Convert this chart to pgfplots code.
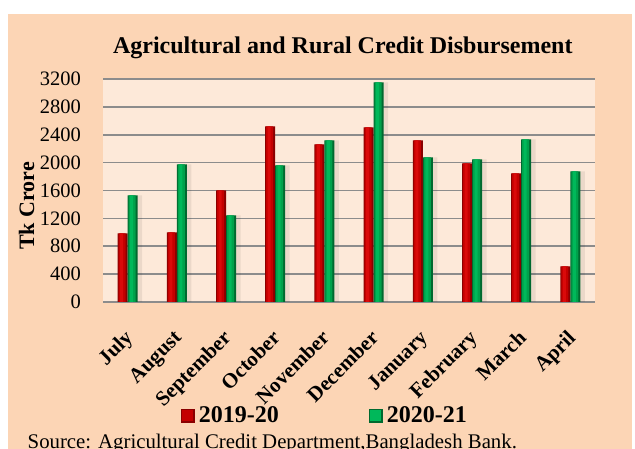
\documentclass[border=0pt]{standalone}
\usepackage{fontspec}
\setmainfont{Liberation Serif}
\usepackage{pgfplots}
\pgfplotsset{compat=1.18}
\definecolor{peach}{HTML}{FCD5B5}
\definecolor{plotbg}{HTML}{FDE9D9}
\definecolor{gridc}{HTML}{8C8C8C}
\definecolor{redD}{HTML}{8A0000}
\definecolor{redM}{HTML}{C40000}
\definecolor{redH}{HTML}{DA0A0A}
\definecolor{grnD}{HTML}{00692F}
\definecolor{grnM}{HTML}{00A14B}
\definecolor{grnH}{HTML}{00B85A}
\pgfplotstableread{
x y
0 986
1 1000
2 1603
3 2521
4 2263
5 2507
6 2320
7 1990
8 1847
9 512
}\redtab
\pgfplotstableread{
x y
0 1531
1 1976
2 1244
3 1961
4 2320
5 3152
6 2076
7 2047
8 2335
9 1875
}\grntab
\begin{document}
\begin{tikzpicture}[x=1pt,y=1pt]
\useasboundingbox (0,0) rectangle (635,449);
\fill[white] (0,0) rectangle (635,449);
\fill[peach] (8,-5) rectangle (632,435);
\node[anchor=base, inner sep=0pt, font=\fontsize{24}{28}\selectfont\bfseries] at (342.8,395) {Agricultural and Rural Credit Disbursement};
\node[anchor=base, inner sep=0pt, font=\fontsize{22}{26}\selectfont\bfseries, rotate=90] at (34,243) {Tk Crore};
\node[anchor=base west, inner sep=0pt, font=\fontsize{20.8}{24}\selectfont] at (27.5,0.5) {Source: Agricultural Credit Department,Bangladesh Bank.};
\begin{axis}[
  at={(103pt,147pt)}, anchor=south west,
  scale only axis, width=492pt, height=223pt,
  ymin=0, ymax=3200, ytick={0,400,...,3200},
  xmin=-0.5, xmax=9.5, xtick={0,...,9},
  xticklabels={July,August,September,October,November,December,January,February,March,April},
  axis line style={draw=none}, major tick length=0pt,
  ymajorgrids, grid style={gridc, line width=1.6pt},
  axis background/.style={fill=plotbg},
  /pgf/number format/assume math mode=true,
  /pgf/number format/1000 sep={},
  yticklabel style={font=\fontsize{20.5}{24}\selectfont, anchor=east, inner sep=0pt, xshift=-22pt},
  xticklabel style={font=\fontsize{21}{25}\selectfont\bfseries, rotate=45, anchor=north east, inner sep=0pt, xshift=-21.8pt, yshift=-15.8pt},
  legend style={at={(axis description cs:0.158,-0.51)}, anchor=west, draw=none, fill=none,
    legend columns=2, font=\fontsize{24}{28}\selectfont\bfseries, inner sep=0pt,
    nodes={inner sep=2pt}, /tikz/every even column/.append style={column sep=88pt}},
  bar width=10pt,
]
% shadow
\addplot[ybar, bar shift=12pt, bar width=5pt, fill=black, opacity=0.07, draw=none, forget plot] table {\grntab};
% red bars
\addplot[ybar, bar shift=-5pt, fill=redD, draw=none,
  legend image code/.code={\fill[redD] (0pt,-7pt) rectangle (14pt,7pt); \fill[redM] (1.5pt,-5.5pt) rectangle (12.5pt,5.5pt); \path (16pt,0pt);}] table {\redtab};
\addlegendentry{2019-20}
\addplot[ybar, bar shift=-5.5pt, bar width=7pt, fill=redM, draw=none, forget plot] table {\redtab};
\addplot[ybar, bar shift=-6pt, bar width=3pt, fill=redH, draw=none, forget plot] table {\redtab};
% green bars
\addplot[ybar, bar shift=5pt, fill=grnD, draw=none,
  legend image code/.code={\fill[grnD] (0pt,-7pt) rectangle (14pt,7pt); \fill[grnH] (1.5pt,-5.5pt) rectangle (12.5pt,5.5pt); \path (16pt,0pt);}] table {\grntab};
\addlegendentry{2020-21}
\addplot[ybar, bar shift=4.5pt, bar width=7pt, fill=grnM, draw=none, forget plot] table {\grntab};
\addplot[ybar, bar shift=4pt, bar width=3pt, fill=grnH, draw=none, forget plot] table {\grntab};
\end{axis}
\end{tikzpicture}
\end{document}
